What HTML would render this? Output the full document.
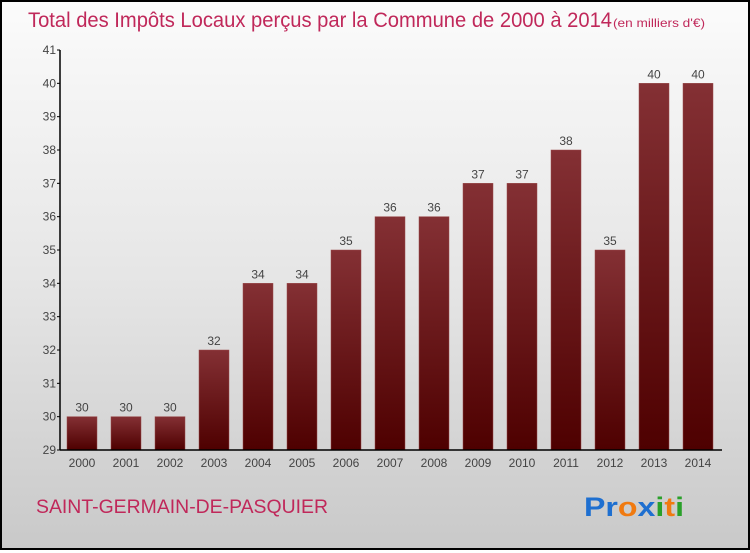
<!DOCTYPE html>
<html><head><meta charset="utf-8"><style>
html,body{margin:0;padding:0;}
body{width:750px;height:550px;overflow:hidden;font-family:"Liberation Sans",sans-serif;}
#wrap{position:absolute;left:0;top:0;width:746px;height:546px;border:2px solid #000;background:linear-gradient(#fbfbfb,#e6e6e6 50%,#c9c9c9);}
</style></head><body>
<div id="wrap">
<svg width="746" height="546" viewBox="2 2 746 546" id="chart">
<defs><linearGradient id="bg" x1="0" y1="0" x2="0" y2="1"><stop offset="0" stop-color="#843034"/><stop offset="1" stop-color="#4e0000"/></linearGradient></defs>
<text x="28" y="27" font-size="21" fill="#c0285a" textLength="584" lengthAdjust="spacingAndGlyphs">Total des Impôts Locaux perçus par la Commune de 2000 à 2014</text>
<text x="613" y="27" font-size="12" fill="#c0285a" textLength="92" lengthAdjust="spacingAndGlyphs">(en milliers d'€)</text>
<g id="bars"></g><g id="axes"></g>
<text x="36" y="513" font-size="19" fill="#c0285a" textLength="292" lengthAdjust="spacingAndGlyphs">SAINT-GERMAIN-DE-PASQUIER</text>
<text x="584" y="516" font-size="27" font-weight="bold" textLength="100" lengthAdjust="spacingAndGlyphs"><tspan fill="#1e6fd0">Pr</tspan><tspan fill="#f07a10">o</tspan><tspan fill="#1e6fd0">x</tspan><tspan fill="#2aa02a">i</tspan><tspan fill="#f07a10">t</tspan><tspan fill="#2aa02a">i</tspan></text>
</svg></div>
<script>
const years=["2000","2001","2002","2003","2004","2005","2006","2007","2008","2009","2010","2011","2012","2013","2014"];
const values=[30,30,30,32,34,34,35,36,36,37,37,38,35,40,40];
const yTicks=[29,30,31,32,33,34,35,36,37,38,39,40,41];
const NS="http://www.w3.org/2000/svg";
const x0=60,x1=722,yTop=50,yBot=450,yMin=29,yMax=41;
const y=v=>yBot-(v-yMin)/(yMax-yMin)*(yBot-yTop);
const cx=i=>82+i*44;
function mk(t,a,p){const e=document.createElementNS(NS,t);for(const k in a)e.setAttribute(k,a[k]);p.appendChild(e);return e;}
const bars=document.getElementById('bars'),axes=document.getElementById('axes');
values.forEach((v,i)=>{
 const r=mk('rect',{x:cx(i)-15,y:y(v),width:30,height:yBot-y(v),fill:'url(#bg)',stroke:'#9a4a4a','stroke-width':0.5},bars);
 
 
 const t=mk('text',{x:cx(i),y:y(v)-5,'text-anchor':'middle','font-size':12,fill:'#444'},bars);t.textContent=v;
 
 
 const xl=mk('text',{x:cx(i),y:467,'text-anchor':'middle','font-size':12,fill:'#444'},axes);xl.textContent=years[i];
 
 
});
mk('line',{x1:x0,y1:yTop,x2:x0,y2:yBot,stroke:'#000','stroke-width':1.5},axes);
mk('line',{x1:x0,y1:yBot,x2:x1,y2:yBot,stroke:'#000','stroke-width':1.5},axes);
yTicks.forEach(v=>{
 mk('line',{x1:x0-3,y1:y(v),x2:x0,y2:y(v),stroke:'#000'},axes);
 const t=mk('text',{x:x0-4,y:y(v)+4,'text-anchor':'end','font-size':12,fill:'#444'},axes);t.textContent=v;
 
 
});
</script>
</body></html>
